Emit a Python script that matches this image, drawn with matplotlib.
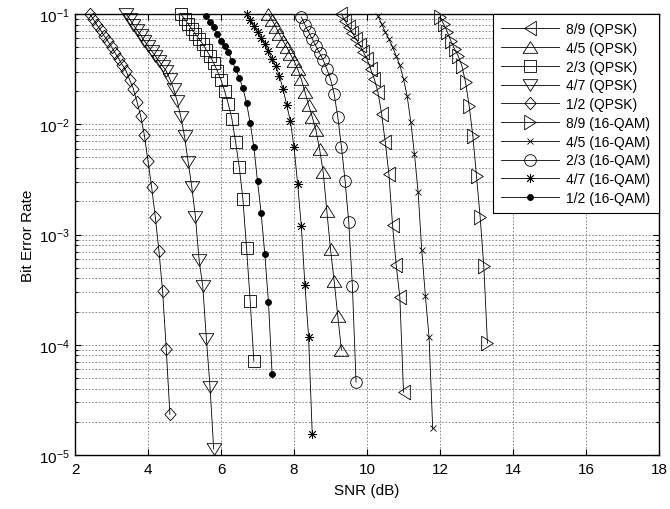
import numpy as np
import matplotlib
matplotlib.use("Agg")
import matplotlib.pyplot as plt
from matplotlib.ticker import LogLocator, FixedLocator, NullFormatter

plt.rcParams['font.family'] = ['Liberation Sans', 'DejaVu Sans']
plt.rcParams['mathtext.fontset'] = 'custom'
plt.rcParams['mathtext.rm'] = 'Liberation Sans'
plt.rcParams['mathtext.it'] = 'Liberation Sans:italic'
plt.rcParams['mathtext.default'] = 'regular'

# ---- data (SNR in dB, BER) ----
snr_qpsk_89 = [9.3, 9.4, 9.5, 9.6, 9.7, 9.8, 9.9, 10.0, 10.1, 10.2, 10.3, 10.4, 10.5, 10.6, 10.7, 10.8, 10.9, 11.0]
ber_qpsk_89 = [0.1, 0.0864, 0.0762, 0.0673, 0.0593, 0.0523, 0.0452, 0.0391, 0.0317, 0.0257, 0.0196, 0.01238,
               0.00689, 0.00353, 0.001217, 0.000528, 0.000270, 3.71e-5]

snr_qpsk_45 = [7.3, 7.4, 7.5, 7.6, 7.7, 7.8, 7.9, 8.0, 8.1, 8.2, 8.3, 8.4, 8.5, 8.6, 8.7, 8.8, 8.9, 9.0, 9.1, 9.2, 9.3]
ber_qpsk_45 = [0.1, 0.0882, 0.0762, 0.0658, 0.0569, 0.0502, 0.0434, 0.0375, 0.0317, 0.0257, 0.0196, 0.01494,
               0.01162, 0.00886, 0.00596, 0.00368, 0.00163, 0.000737, 0.000378, 0.0001817, 8.93e-5]

snr_qpsk_23 = [4.9, 5.0, 5.1, 5.2, 5.3, 5.4, 5.5, 5.6, 5.7, 5.8, 5.9, 6.0, 6.1, 6.2, 6.3, 6.4, 6.5, 6.6, 6.7, 6.8, 6.9]
ber_qpsk_23 = [0.1, 0.0901, 0.0812, 0.0731, 0.0658, 0.0593, 0.0534, 0.0471, 0.0416, 0.0359, 0.0304, 0.0252,
               0.0200, 0.01525, 0.01115, 0.00689, 0.00409, 0.002096, 0.000752, 0.000249, 7.1e-5]

snr_qpsk_47 = [3.4, 3.5, 3.6, 3.7, 3.8, 3.9, 4.0, 4.1, 4.2, 4.3, 4.4, 4.5, 4.6, 4.7, 4.8, 4.9, 5.0, 5.1, 5.2,
               5.3, 5.4, 5.5, 5.6, 5.7, 5.8]
ber_qpsk_47 = [0.1, 0.0901, 0.0795, 0.0716, 0.0645, 0.0569, 0.0513, 0.0462, 0.0416, 0.0375, 0.0337, 0.0304,
               0.0257, 0.0209, 0.01623, 0.01162, 0.00781, 0.00454, 0.00270, 0.00144, 0.000586, 0.000340,
               0.0001124, 4.12e-5, 1.13e-5]

snr_qpsk_12 = [2.4, 2.5, 2.6, 2.7, 2.8, 2.9, 3.0, 3.1, 3.2, 3.3, 3.4, 3.5, 3.6, 3.7, 3.8, 3.9, 4.0, 4.1, 4.2,
               4.3, 4.4, 4.5, 4.6]
ber_qpsk_12 = [0.1, 0.0901, 0.0795, 0.0716, 0.0632, 0.0569, 0.0502, 0.0443, 0.0391, 0.0344, 0.0304, 0.0252,
               0.0209, 0.0159, 0.01186, 0.00798, 0.00463, 0.00269, 0.00144, 0.000707, 0.000306, 9.12e-5, 2.34e-5]

snr_qam_89 = [12.0, 12.1, 12.2, 12.3, 12.4, 12.5, 12.6, 12.7, 12.8, 12.9, 13.0, 13.1, 13.2, 13.3]
ber_qam_89 = [0.0939, 0.0812, 0.0687, 0.0569, 0.0481, 0.0416, 0.0337, 0.0241, 0.01463, 0.00781, 0.00339,
              0.001438, 0.000517, 0.0001034]

snr_qam_45 = [10.3, 10.4, 10.5, 10.6, 10.7, 10.8, 10.9, 11.0, 11.1, 11.2, 11.3, 11.4, 11.5, 11.6, 11.7, 11.8]
ber_qam_45 = [0.0959, 0.0812, 0.0687, 0.0593, 0.0502, 0.0416, 0.0344, 0.0257, 0.0180, 0.01047, 0.00537,
              0.00243, 0.000722, 0.000276, 0.0001172, 1.75e-5]

snr_qam_23 = [8.2, 8.3, 8.4, 8.5, 8.6, 8.7, 8.8, 8.9, 9.0, 9.1, 9.2, 9.3, 9.4, 9.5, 9.6, 9.7]
ber_qam_23 = [0.0939, 0.0795, 0.0687, 0.0593, 0.0513, 0.0443, 0.0382, 0.0317, 0.0257, 0.0188, 0.01162,
              0.00621, 0.00305, 0.001296, 0.000340, 4.58e-5]

snr_qam_47 = [6.7, 6.8, 6.9, 7.0, 7.1, 7.2, 7.3, 7.4, 7.5, 7.6, 7.7, 7.8, 7.9, 8.0, 8.1, 8.2, 8.3, 8.4, 8.5]
ber_qam_47 = [0.1, 0.0882, 0.0778, 0.0687, 0.0606, 0.0534, 0.0462, 0.0391, 0.0337, 0.0274, 0.0209, 0.01494,
              0.01069, 0.00621, 0.00287, 0.001192, 0.000347, 0.0001172, 1.54e-5]

snr_qam_12 = [5.6, 5.7, 5.8, 5.9, 6.0, 6.1, 6.2, 6.3, 6.4, 6.5, 6.6, 6.7, 6.8, 6.9, 7.0, 7.1, 7.2, 7.3, 7.4]
ber_qam_12 = [0.0959, 0.0846, 0.0762, 0.0658, 0.0569, 0.0513, 0.0452, 0.0375, 0.0317, 0.0263, 0.0213,
              0.01557, 0.01025, 0.00621, 0.00305, 0.001564, 0.000664, 0.000244, 5.41e-5]

labels = ['8/9 (QPSK)', '4/5 (QPSK)', '2/3 (QPSK)', '4/7 (QPSK)', '1/2 (QPSK)',
          '8/9 (16-QAM)', '4/5 (16-QAM)', '2/3 (16-QAM)', '4/7 (16-QAM)', '1/2 (16-QAM)']
x_ticks = [2, 4, 6, 8, 10, 12, 14, 16, 18]

# ---- marker shapes (MATLAB-like) ----
r = 0.8
tri_up = [(-1, -r), (1, -r), (0, r), (-1, -r)]
tri_down = [(-1, r), (1, r), (0, -r), (-1, r)]
tri_left = [(r, -1), (r, 1), (-r, 0), (r, -1)]
tri_right = [(-r, -1), (-r, 1), (r, 0), (-r, -1)]
diamond = [(0, 1), (0.9, 0), (0, -1), (-0.9, 0), (0, 1)]

series = [
    (snr_qpsk_89, ber_qpsk_89, tri_left, 10.5, 'none'),
    (snr_qpsk_45, ber_qpsk_45, tri_up, 10.5, 'none'),
    (snr_qpsk_23, ber_qpsk_23, 's', 8.5, 'none'),
    (snr_qpsk_47, ber_qpsk_47, tri_down, 10.5, 'none'),
    (snr_qpsk_12, ber_qpsk_12, diamond, 9.0, 'none'),
    (snr_qam_89, ber_qam_89, tri_right, 10.5, 'none'),
    (snr_qam_45, ber_qam_45, 'x', 4.2, 'none'),
    (snr_qam_23, ber_qam_23, 'o', 8.4, 'none'),
    (snr_qam_47, ber_qam_47, (8, 2, 0), 6.2, 'none'),
    (snr_qam_12, ber_qam_12, 'o', 4.3, 'black'),
]

fig = plt.figure(figsize=(6.7, 5.1), dpi=100)
ax = fig.add_axes([75/670, 1 - 456/510, (659 - 75)/670, (456 - 15)/510])

for (x, y, m, ms, fc), lab in zip(series, labels):
    ax.semilogy(x, y, color='black', linewidth=0.6, marker=m, markersize=ms,
                markerfacecolor=fc, markeredgecolor='black', markeredgewidth=0.6, label=lab,
                clip_on=False, zorder=3)

ax.set_xlim(2, 18)
ax.set_ylim(1e-5, 1e-1)
ax.xaxis.set_major_locator(FixedLocator(x_ticks))
ax.yaxis.set_major_locator(LogLocator(base=10, numticks=10))
ax.yaxis.set_minor_locator(LogLocator(base=10, subs=np.arange(2, 10), numticks=20))
ax.yaxis.set_minor_formatter(NullFormatter())

ax.grid(True, which='major', axis='both', color='#777777', linestyle=(0, (2, 2)), linewidth=0.6)
ax.grid(True, which='minor', axis='y', color='#777777', linestyle=(0, (2, 2)), linewidth=0.6)

ax.tick_params(which='both', direction='in', top=True, right=True, labelsize=11, length=4, width=0.8)
ax.tick_params(axis='x', which='major', pad=5)
ax.tick_params(which='minor', length=2)
for s in ax.spines.values():
    s.set_linewidth(1.0)
    s.set_zorder(4)

ax.set_xlabel('SNR (dB)', fontsize=11, labelpad=5)
ax.set_ylabel('Bit Error Rate', fontsize=11, labelpad=3)

leg = ax.legend(loc='upper right', borderaxespad=0, fontsize=10, handlelength=4.2,
                handletextpad=0.5, labelspacing=0.34, borderpad=0.6, numpoints=1,
                fancybox=False, framealpha=1, edgecolor='black')
leg.get_frame().set_linewidth(0.8)
leg.set_zorder(5)

fig.savefig('out.png', dpi=100)
